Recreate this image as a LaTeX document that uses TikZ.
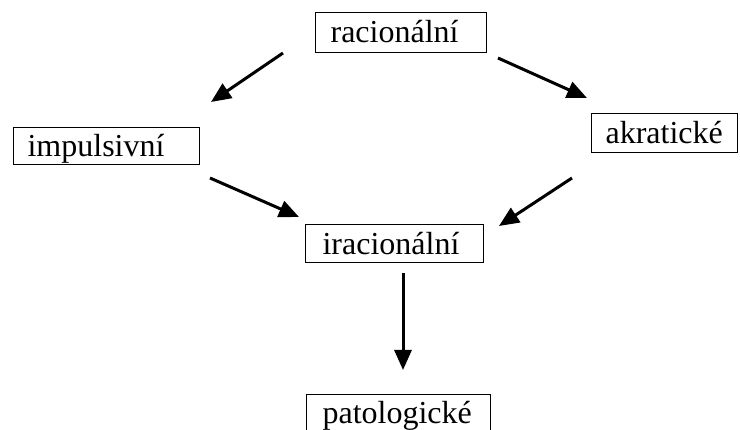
\documentclass[tikz,border=0pt]{standalone}
\usepackage{fontspec}
\setmainfont{Liberation Serif}
\usetikzlibrary{arrows.meta}
\begin{document}
\begin{tikzpicture}[x=1pt,y=-1pt,
  wbox/.style={draw=black,line width=1.2pt,anchor=north west,inner ysep=0pt,align=left,
    font=\fontsize{32}{38}\selectfont},
  arr/.style={line width=3pt,-{Triangle[length=20pt,width=17pt]}}]
\clip (0,0) rectangle (740,430);
\useasboundingbox (0,0) rectangle (740,430);
\fill[white] (0,0) rectangle (740,430);
\node[wbox,inner xsep=15pt,text width=141pt,text height=30pt,text depth=10pt] (rac) at (315,12) {racionální};
\node[wbox,inner xsep=14pt,text width=158pt,text height=29pt,text depth=8pt] (imp) at (13,127) {impulsivní};
\node[wbox,inner xsep=14pt,text width=118pt,text height=30pt,text depth=9pt] (akr) at (591,113) {akratické};
\node[wbox,inner xsep=17pt,text width=144pt,text height=30pt,text depth=8pt] (ira) at (305,224) {iracionální};
\node[wbox,inner xsep=16pt,text width=152pt,text height=29pt,text depth=11pt] (pat) at (306,394) {patologické};
\coordinate (a1s) at (283,53);  \coordinate (a1e) at (211,102);
\coordinate (a2s) at (498,58);  \coordinate (a2e) at (587,98);
\coordinate (a3s) at (210,178); \coordinate (a3e) at (299,217);
\coordinate (a4s) at (572,178); \coordinate (a4e) at (499,226);
\coordinate (a5s) at (403,273); \coordinate (a5e) at (403,370);
\draw[arr] (a1s) -- (a1e);
\draw[arr] (a2s) -- (a2e);
\draw[arr] (a3s) -- (a3e);
\draw[arr] (a4s) -- (a4e);
\draw[arr] (a5s) -- (a5e);
\end{tikzpicture}
\end{document}
